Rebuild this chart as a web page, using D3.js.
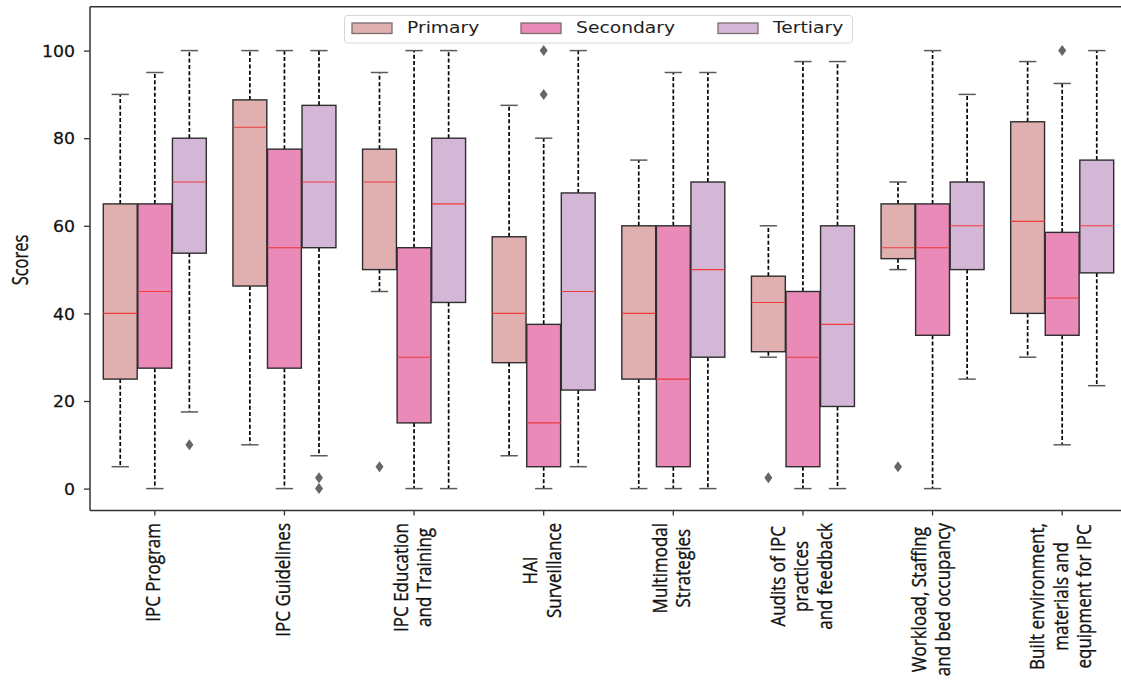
<!DOCTYPE html>
<html>
<head>
<meta charset="utf-8">
<script src="https://cdn.jsdelivr.net/npm/d3@7/dist/d3.min.js"></script>
<style>
  html, body { margin: 0; padding: 0; background: #fff; }
  svg { display: block; }
</style>
</head>
<body>
<svg id="chart" width="1121" height="680"></svg>
<script>
// IPC component scores by facility level: box summaries per category
const categories = [
  "IPC Program",
  "IPC Guidelines",
  "IPC Education\nand Training",
  "HAI\nSurveillance",
  "Multimodal\nStrategies",
  "Audits of IPC\npractices\nand feedback",
  "Workload, Staffing\nand bed occupancy",
  "Built environment,\nmaterials and\nequipment for IPC"
];
const seriesNames = ["Primary", "Secondary", "Tertiary"];
const yTicks = [0, 20, 40, 60, 80, 100];

// Primary
const primaryLow    = [5, 10, 45, 7.5, 0, 30, 50, 30];
const primaryQ1     = [25, 46.25, 50, 28.75, 25, 31.25, 52.5, 40];
const primaryMedian = [40, 82.5, 70, 40, 40, 42.5, 55, 61];
const primaryQ3     = [65, 88.75, 77.5, 57.5, 60, 48.5, 65, 83.75];
const primaryHigh   = [90, 100, 95, 87.5, 75, 60, 70, 97.5];
const primaryOut    = [[], [], [5], [], [], [2.5], [5], []];

// Secondary
const secondaryLow    = [0, 0, 0, 0, 0, 0, 0, 10];
const secondaryQ1     = [27.5, 27.5, 15, 5, 5, 5, 35, 35];
const secondaryMedian = [45, 55, 30, 15, 25, 30, 55, 43.5];
const secondaryQ3     = [65, 77.5, 55, 37.5, 60, 45, 65, 58.5];
const secondaryHigh   = [95, 100, 100, 80, 95, 97.5, 100, 92.5];
const secondaryOut    = [[], [], [], [90, 100], [], [], [], [100]];

// Tertiary
const tertiaryLow    = [17.5, 7.5, 0, 5, 0, 0, 25, 23.5];
const tertiaryQ1     = [53.75, 55, 42.5, 22.5, 30, 18.75, 50, 49.25];
const tertiaryMedian = [70, 70, 65, 45, 50, 37.5, 60, 60];
const tertiaryQ3     = [80, 87.5, 80, 67.5, 70, 60, 70, 75];
const tertiaryHigh   = [100, 100, 100, 100, 95, 97.5, 90, 100];
const tertiaryOut    = [[10], [0, 2.5], [], [], [], [], [], []];

const seriesColors = ["#e0b0b0", "#e98ab9", "#d4b6d6"];

// assemble per-series box records from the arrays above
const seriesStats = [
  [primaryLow, primaryQ1, primaryMedian, primaryQ3, primaryHigh, primaryOut],
  [secondaryLow, secondaryQ1, secondaryMedian, secondaryQ3, secondaryHigh, secondaryOut],
  [tertiaryLow, tertiaryQ1, tertiaryMedian, tertiaryQ3, tertiaryHigh, tertiaryOut]
];
const boxes = [];
seriesStats.forEach((s, si) => {
  categories.forEach((c, ci) => {
    boxes.push({
      cat: c, series: seriesNames[si], color: seriesColors[si],
      low: s[0][ci], q1: s[1][ci], med: s[2][ci], q3: s[3][ci], high: s[4][ci], out: s[5][ci]
    });
  });
});

const svg = d3.select("#chart");
const plotLeft = 90, plotRight = 1127, plotTop = 6.8, plotBottom = 510.5;

const x = d3.scaleBand().domain(categories).range([plotLeft, plotRight]).paddingInner(0).paddingOuter(0);
const bw = x.bandwidth();
const xs = d3.scaleBand().domain(seriesNames).range([-0.4 * bw, 0.4 * bw]);
const y = d3.scaleLinear().domain([-5, 110]).range([plotBottom, plotTop]);

const boxW = xs.bandwidth() * 0.98;
const capW = xs.bandwidth() * 0.5;

const plot = svg.append("g");

const g = plot.selectAll("g.box").data(boxes).enter().append("g")
  .attr("class", "box")
  .attr("transform", d => `translate(${x(d.cat) + bw / 2 + xs(d.series) + xs.bandwidth() / 2},0)`);

// whiskers
g.append("line").attr("x1", 0).attr("x2", 0)
  .attr("y1", d => y(d.q3)).attr("y2", d => y(d.high))
  .attr("stroke", "#000").attr("stroke-width", 1.7).attr("stroke-dasharray", "4,2.3");
g.append("line").attr("x1", 0).attr("x2", 0)
  .attr("y1", d => y(d.q1)).attr("y2", d => y(d.low))
  .attr("stroke", "#000").attr("stroke-width", 1.7).attr("stroke-dasharray", "4,2.3");
// caps
g.append("line").attr("x1", -capW / 2).attr("x2", capW / 2)
  .attr("y1", d => y(d.high)).attr("y2", d => y(d.high))
  .attr("stroke", "#5a5a5a").attr("stroke-width", 1.5);
g.append("line").attr("x1", -capW / 2).attr("x2", capW / 2)
  .attr("y1", d => y(d.low)).attr("y2", d => y(d.low))
  .attr("stroke", "#5a5a5a").attr("stroke-width", 1.5);
// boxes
g.append("rect")
  .attr("x", -boxW / 2).attr("width", boxW)
  .attr("y", d => y(d.q3)).attr("height", d => y(d.q1) - y(d.q3))
  .attr("fill", d => d.color).attr("stroke", "#2e2e2e").attr("stroke-width", 1.4);
// medians
g.append("line").attr("x1", -boxW / 2).attr("x2", boxW / 2)
  .attr("y1", d => y(d.med)).attr("y2", d => y(d.med))
  .attr("stroke", "#ee3b3b").attr("stroke-width", 1.1);
// outliers (thin diamonds)
g.selectAll("path.flier").data(d => d.out).enter().append("path")
  .attr("class", "flier")
  .attr("d", v => `M0,${y(v) - 5.5} L4,${y(v)} L0,${y(v) + 5.5} L-4,${y(v)} Z`)
  .attr("fill", "#666");

// y axis
const yAxis = svg.append("g").attr("transform", `translate(${plotLeft},0)`)
  .call(d3.axisLeft(y).tickValues(yTicks).tickSize(6).tickPadding(0));
yAxis.select(".domain").remove();
yAxis.selectAll(".tick line").attr("stroke", "#333").attr("stroke-width", 1.3);
yAxis.selectAll(".tick text")
  .attr("x", 0).attr("dy", "0.36em")
  .attr("transform", "translate(-15,0) scale(1.08,1)")
  .attr("fill", "#111")
  .attr("stroke", "#111").attr("stroke-width", 0.25)
  .style("font-family", "DejaVu Sans").style("font-size", "16px");

// x axis ticks
const xAxis = svg.append("g").attr("transform", `translate(0,${plotBottom})`)
  .call(d3.axisBottom(x).tickSize(5).tickFormat(""));
xAxis.select(".domain").remove();
xAxis.selectAll(".tick line").attr("stroke", "#333").attr("stroke-width", 1.3);

// rotated, multi-line category labels, centred lines, ends near the axis
const labFs = 17, labStretch = 1.19, labLine = 19.6;
categories.forEach(c => {
  const lines = c.split("\n");
  const lg = svg.append("g")
    .attr("transform", `translate(${x(c) + bw / 2},523) rotate(-90) scale(1,${labStretch})`);
  const texts = lines.map((t, i) => lg.append("text")
    .text(t)
    .attr("y", (i - (lines.length - 1) / 2) * labLine + 0.27 * labFs)
    .attr("text-anchor", "middle")
    .attr("fill", "#111")
    .attr("stroke", "#111").attr("stroke-width", 0.3)
    .style("font-family", "Open Sans").style("font-size", labFs + "px"));
  const len = d3.max(texts, t => t.node().getComputedTextLength());
  texts.forEach(t => t.attr("x", -len / 2));
});

// y label
svg.append("g").attr("transform", "translate(20,260) rotate(-90) scale(1,1.3)")
  .append("text").text("Scores")
  .attr("text-anchor", "middle").attr("y", 0.36 * 16.5)
  .attr("fill", "#111")
  .attr("stroke", "#111").attr("stroke-width", 0.25)
  .style("font-family", "Open Sans").style("font-size", "16.5px");

// spines
const spine = svg.append("g").attr("stroke", "#333").attr("stroke-width", 1.5).attr("fill", "none");
spine.append("line").attr("x1", plotLeft).attr("x2", plotLeft).attr("y1", plotTop).attr("y2", plotBottom);
spine.append("line").attr("x1", plotLeft).attr("x2", 1121).attr("y1", plotBottom).attr("y2", plotBottom);
spine.append("line").attr("x1", plotLeft).attr("x2", 1121).attr("y1", plotTop).attr("y2", plotTop);

// legend
const legend = svg.append("g");
legend.append("rect")
  .attr("x", 344.5).attr("y", 15.5).attr("width", 508).attr("height", 27.5)
  .attr("rx", 3).attr("fill", "#fff").attr("fill-opacity", 0.8)
  .attr("stroke", "#d6d6d6").attr("stroke-width", 1);
const legendX = [352, 521, 718];
seriesNames.forEach((s, i) => {
  legend.append("rect")
    .attr("x", legendX[i]).attr("y", 23).attr("width", 40).attr("height", 10.5)
    .attr("fill", seriesColors[i]).attr("stroke", "#7a6e6e").attr("stroke-width", 1.3);
  legend.append("g").attr("transform", `translate(${legendX[i] + 55},33.3) scale(1.17,1)`)
    .append("text").text(s)
    .attr("fill", "#222")
    .style("font-family", "DejaVu Sans").style("font-size", "16px");
});
</script>
</body>
</html>
